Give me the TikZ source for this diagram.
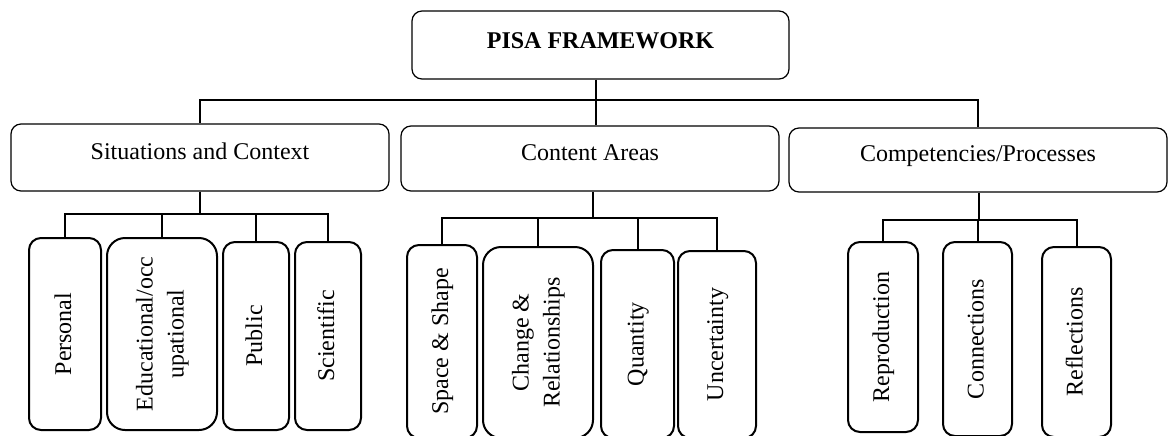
\documentclass[tikz,border=0pt]{standalone}
\usepackage{fontspec}
\setmainfont{Liberation Serif}
\newcommand{\vtext}[1]{\rotatebox{90}{\begin{tabular}{@{}c@{}}#1\end{tabular}}}
\tikzset{
  topbox/.style={draw, line width=0.6pt, rounded corners=5pt, inner sep=0pt,
    minimum width=188.5pt, minimum height=34pt, text height=8.5pt, text depth=5.3pt,
    font=\fontsize{12}{15.5}\selectfont\bfseries},
  areabox/.style={draw, line width=0.6pt, rounded corners=5pt, inner sep=0pt,
    minimum width=189pt, text height=8.5pt, text depth=7pt},
  itembox/.style={draw, line width=1pt, rounded corners=6pt, inner sep=0pt},
  link/.style={line width=1pt}
}
\begin{document}
\begin{tikzpicture}[x=0.5pt, y=-0.5pt, every node/.style={font=\fontsize{12}{15.5}\selectfont}]
    \useasboundingbox (0,0) rectangle (1174,435);
    %Framework
    \node[topbox] (pisa) at (600.5,45) {PISA FRAMEWORK};
    %Areas
    \node[areabox, minimum height=33.5pt] (situation) at (200,157.5) {Situations and Context};
    \node[areabox, minimum height=32.5pt] (content) at (590,158.5) {Content Areas};
    \node[areabox, minimum height=32pt] (competency) at (978,160) {Competencies/Processes};
    %Situations
    \node[itembox, minimum width=36pt, minimum height=96pt] (personal) at (65,334) {\vtext{Personal}};
    \node[itembox, rounded corners=9pt, minimum width=55pt, minimum height=96pt] (educational) at (162,334) {\vtext{Educational/occ\\upational}};
    \node[itembox, minimum width=33pt, minimum height=94pt] (public) at (256,336) {\vtext{Public}};
    \node[itembox, minimum width=33pt, minimum height=94pt] (scientific) at (328,336) {\vtext{Scientific}};
    %Content
    \node[itembox, minimum width=35pt, minimum height=96.5pt] (space) at (442,341.5) {\vtext{Space \& Shape}};
    \node[itembox, rounded corners=9pt, minimum width=55pt, minimum height=95.5pt] (change) at (538,342.5) {\vtext{Change \&\\Relationships}};
    \node[itembox, minimum width=36.5pt, minimum height=94pt] (quantity) at (637.5,344) {\vtext{Quantity}};
    \node[itembox, minimum width=39pt, minimum height=93.5pt] (uncertainty) at (717,344.5) {\vtext{Uncertainty}};
    %Competencies
    \node[itembox, minimum width=35pt, minimum height=95pt] (reproduction) at (883,337) {\vtext{Reproduction}};
    \node[itembox, minimum width=34.5pt, minimum height=97pt] (connections) at (977.5,339) {\vtext{Connections}};
    \node[itembox, minimum width=34.5pt, minimum height=95pt] (reflections) at (1076.5,342) {\vtext{Reflections}};
    %Bars
    \coordinate (topbar) at (596,100);
    \coordinate (situationbar) at (199,214);
    \coordinate (contentbar) at (593,218);
    \coordinate (competencybar) at (979,220);
    %Links
    \draw[link] (pisa.south -| topbar) -- (topbar |- content.north);
    \draw[link] (situation.north) |- (topbar) -| (competency.north);
    \draw[link] (situation.south) -- (situation.south |- situationbar);
    \draw[link] (personal.north) |- (situationbar) -| (scientific.north);
    \foreach \n in {educational,public}
      \draw[link] (\n.north) -- (\n.north |- situationbar);
    \draw[link] (content.south -| contentbar) -- (contentbar);
    \draw[link] (space.north) |- (contentbar) -| (uncertainty.north);
    \foreach \n in {change,quantity}
      \draw[link] (\n.north) -- (\n.north |- contentbar);
    \draw[link] (competency.south -| competencybar) -- (competencybar);
    \draw[link] (reproduction.north) |- (competencybar) -| (reflections.north);
    \draw[link] (connections.north) -- (connections.north |- competencybar);
\end{tikzpicture}
\end{document}
